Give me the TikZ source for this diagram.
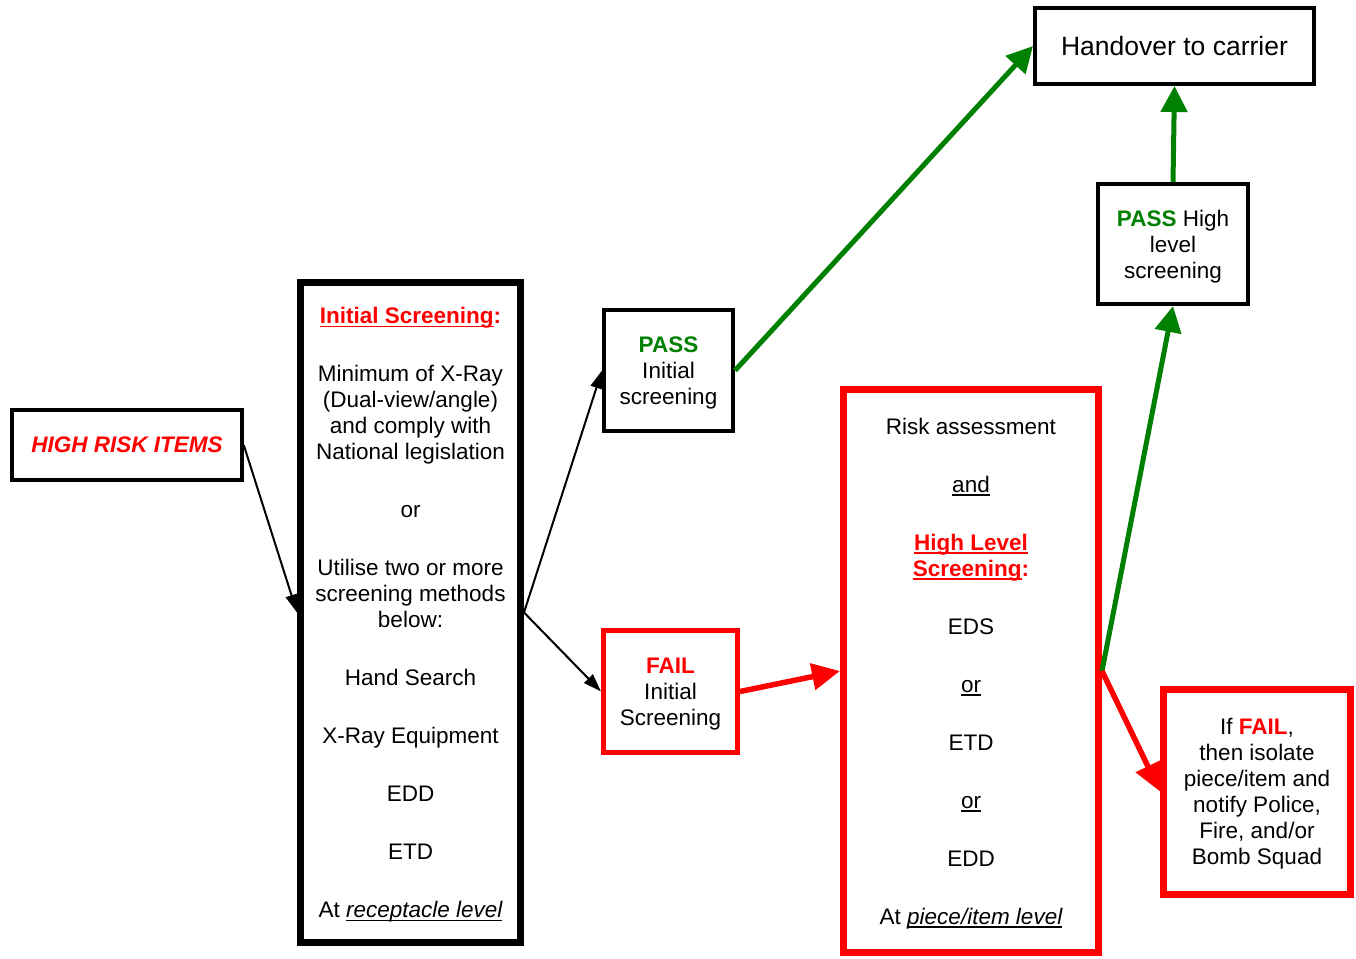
\documentclass[tikz,border=0pt]{standalone}
\usepackage{fontspec}
\setmainfont{Liberation Sans}
\usetikzlibrary{arrows.meta}

\definecolor{passgreen}{RGB}{0,128,0}
\definecolor{failred}{RGB}{255,0,0}
\newcommand{\flowfont}{\fontsize{22.5}{26}\selectfont}
% underline close under the baseline
\newcommand{\undl}[1]{\setbox0\hbox{#1}\rlap{\vrule width\wd0 height -2.2pt depth 3.8pt}\box0}

\begin{document}
\begin{tikzpicture}[x=1pt,y=-1pt,
        box/.style={draw,align=center,inner sep=0pt,font=\flowfont},
        lowtext/.style={text depth=-4pt},
        blackarrow/.style={-{Triangle[length=18pt,width=12pt]},line width=2pt},
        greenarrow/.style={-{Triangle[length=26pt,width=26pt]},line width=5pt,passgreen},
        redarrow/.style={-{Triangle[length=28pt,width=26pt]},line width=5.5pt,failred}]
        \useasboundingbox (0,0) rectangle (1356,958);

        % left column
        \node[box,line width=3.5pt,minimum width=230pt,minimum height=70pt] (hri) at (127,445)
            {\textcolor{failred}{\bfseries\itshape HIGH RISK ITEMS}};

        \node[box,lowtext,line width=7pt,minimum width=220pt,minimum height=660pt] (init) at (410.5,612.5)
            {\textcolor{failred}{\bfseries\undl{Initial Screening}:}\\[32pt]
             Minimum of X-Ray\\(Dual-view/angle)\\and comply with\\National legislation\\[32pt]
             or\\[32pt]
             Utilise two or more\\screening methods\\below:\\[32pt]
             Hand Search\\[32pt]
             X-Ray Equipment\\[32pt]
             EDD\\[32pt]
             ETD\\[32pt]
             At \undl{\itshape receptacle level}};

        % initial screening results
        \node[box,lowtext,line width=4pt,minimum width=129pt,minimum height=121pt] (passi) at (668.5,370.5)
            {\textcolor{passgreen}{\bfseries PASS}\\Initial\\screening};
        \node[box,lowtext,line width=5pt,draw=failred,minimum width=134pt,minimum height=122pt] (faili) at (670.5,691.5)
            {\textcolor{failred}{\bfseries FAIL}\\Initial\\Screening};

        % high level screening
        \node[box,lowtext,line width=7pt,draw=failred,minimum width=255pt,minimum height=563pt] (hls) at (971,671)
            {Risk assessment\\[32pt]
             \undl{and}\\[32pt]
             \textcolor{failred}{\bfseries\undl{High Level}}\\
             \textcolor{failred}{\bfseries\undl{Screening}:}\\[32pt]
             EDS\\[32pt]
             \undl{or}\\[32pt]
             ETD\\[32pt]
             \undl{or}\\[32pt]
             EDD\\[32pt]
             At \undl{\itshape piece/item level}};

        \node[box,lowtext,line width=7pt,draw=failred,minimum width=187pt,minimum height=205pt] (alarm) at (1257,791.5)
            {If \textcolor{failred}{\bfseries FAIL},\\then isolate\\piece/item and\\notify Police,\\Fire, and/or\\Bomb Squad};

        \node[box,lowtext,line width=4pt,minimum width=150pt,minimum height=120pt] (passh) at (1173,244)
            {\textcolor{passgreen}{\bfseries PASS} High\\level\\screening};

        \node[box,line width=4pt,minimum width=279pt,minimum height=76pt,font=\fontsize{26.5}{30}\selectfont] (carrier) at (1174.5,46)
            {Handover to carrier};

        % connectors
        \draw[blackarrow] (hri.east) -- (init.west);
        \draw[blackarrow] (init.east) -- (passi.west);
        \draw[blackarrow] (init.east) -- (faili.west);
        \draw[greenarrow] (passi.east) -- (carrier.west);
        \draw[redarrow] (faili.east) -- (hls.west);
        \draw[greenarrow] (hls.east) -- (passh.south);
        \draw[redarrow] (hls.east) -- (alarm.west);
        \draw[greenarrow] (passh.north) -- (carrier.south);
    \end{tikzpicture}
\end{document}
